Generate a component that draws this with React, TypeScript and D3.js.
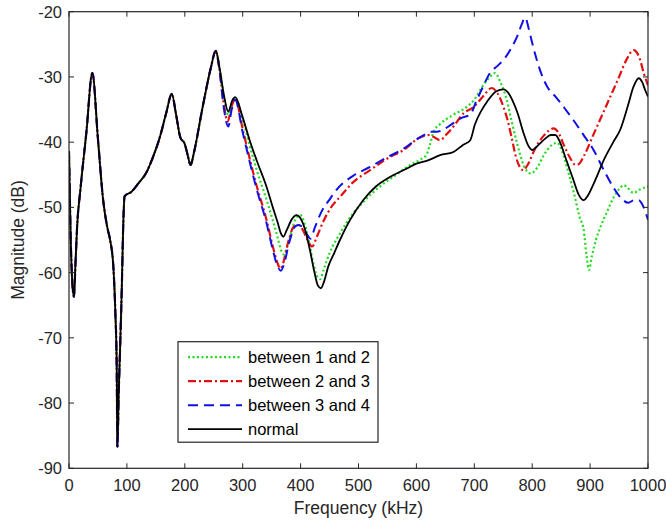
import React from "react";
import * as d3 from "d3";

type Pt = [number, number];

// Shared low-frequency response (all four cases coincide here)
const sharedHead: Pt[] = [
  [0, -41.4], [3, -55], [6, -62], [8.6, -63.7], [11, -59], [14, -53], [20, -47],
  [30, -38.5], [40.3, -29.4], [50, -39.5], [59, -48.9], [66, -53], [71, -55],
  [76.6, -59.1], [80, -66], [82.4, -74.4], [83.5, -86.8], [86, -78], [88.1, -72],
  [91, -63], [93.9, -52], [96, -48.3], [108, -47.6], [120, -46.3], [134, -44.6],
  [145, -42.3], [157, -39.2], [168, -35.5], [177.5, -32.6], [185, -35.8],
  [192, -39.2], [200, -40.3], [205, -42], [210, -43.5], [216, -41.5], [230, -35],
  [245, -28.6], [253.5, -26.0],
];

const normalTail: Pt[] = [
  [260, -28.6], [268, -33], [275, -35.3], [282, -33.6], [287, -33.1], [300, -36.2],
  [312, -39.7], [325, -43], [341, -46.8], [352, -50], [360, -52.2], [366, -54],
  [370, -54.5], [376, -53.5], [385, -51.8], [393, -51.2], [400, -51.7], [408, -53.5],
  [416, -56.5], [424, -60], [430, -62], [435, -62.4], [440, -61.5], [448, -59],
  [458, -57], [468, -55], [485, -52], [508, -48.9], [530, -46.8], [555, -45.3],
  [580, -44.2], [600, -43.3], [620, -42.8], [641, -42.0], [664, -41.5], [681, -40.4],
  [693, -39.7], [701, -37.3], [712, -35.2], [722, -33.8], [738, -32.2], [750, -31.9],
  [760, -32.6], [768, -34], [775, -35.6], [785, -38.6], [793, -40.5], [800, -41.2],
  [810, -40.5], [822, -39.5], [832, -38.9], [840, -38.9], [848, -40], [858, -42.5],
  [870, -45.5], [880, -48], [889, -48.9], [896, -48.2], [908, -46], [925, -42.5],
  [940, -40], [952, -38.1], [965, -34.5], [975, -31.5], [984, -30.2], [990, -30.8],
  [995, -32], [1000, -33],
];

const redTail: Pt[] = [
  [260, -29], [267, -34], [274, -36.8], [281, -34.5], [287, -33.3], [300, -38],
  [312, -42.5], [325, -47], [340, -51.5], [352, -56], [360, -58.5], [365, -59.4],
  [370, -58.5], [378, -55.5], [388, -53], [396, -52.7], [404, -53.5], [412, -55],
  [420, -56], [428, -54.5], [440, -52], [455, -49.7], [468, -48.4], [490, -46.2],
  [520, -44.3], [550, -42.5], [578, -41.2], [606, -39.3], [622, -38.9], [630, -39.2],
  [641, -39.7], [652, -38.8], [664, -37.6], [681, -35.6], [699, -34.6], [715, -33],
  [730, -31.7], [740, -32.5], [750, -34.5], [758, -36.8], [765, -39.5], [772, -42.3],
  [780, -44], [785, -44.3], [792, -43.5], [805, -41], [820, -39], [837, -37.9],
  [845, -38.5], [855, -40.5], [866, -42.5], [875, -43.5], [880, -43.4], [890, -42],
  [905, -39], [920, -36], [935, -33], [950, -30], [962, -27.5], [975, -25.9],
  [985, -27], [993, -29.5], [1000, -31.3],
];

const blueTail: Pt[] = [
  [260, -29], [267, -34.5], [275, -37.6], [281, -35], [287, -33.5], [300, -38.5],
  [312, -43], [325, -47.5], [340, -52], [352, -56.5], [360, -59], [366, -59.7],
  [372, -58.5], [380, -55.5], [390, -53], [396, -52.7], [403, -53], [410, -54],
  [417, -54.8], [425, -53], [437, -50.5], [450, -48.8], [462, -47.3], [490, -45.2],
  [520, -43.8], [550, -42.3], [578, -41], [600, -39.6], [615, -38.8], [625, -38.4],
  [635, -38.4], [650, -37.9], [665, -37], [680, -36.2], [693, -35.8], [703, -33.8],
  [715, -31.5], [727, -29.4], [740, -28.3], [753, -27.1], [765, -25.4], [775, -23.6],
  [782, -21.9], [788, -20.9], [794, -22.6], [800, -24.8], [808, -27.4], [817, -29.8],
  [826, -31.5], [842, -33.2], [856, -34.8], [871, -36.6], [888, -38.8], [906, -41.2],
  [922, -44], [940, -46.9], [955, -48.7], [966, -49.3], [976, -48.9], [984, -48.9],
  [991, -49.7], [1000, -51.9],
];

const greenTail: Pt[] = [
  [260, -28.6], [268, -33.3], [275, -35.8], [282, -33.8], [287, -33.2], [300, -36.5],
  [312, -40.5], [325, -44.5], [340, -48.5], [352, -52], [360, -54.5], [366, -56.5],
  [371, -57.2], [377, -56], [385, -53.5], [393, -51.5], [400, -51.2], [407, -52.5],
  [415, -55.5], [423, -59], [430, -60.8], [434, -61], [440, -59.5], [450, -57],
  [468, -54], [490, -51], [510, -49], [537, -46.8], [565, -45], [589, -43.5],
  [608, -42.6], [617, -42], [623, -40.5], [630, -38.3], [640, -37.3], [660, -36],
  [687, -34.6], [700, -33.5], [710, -32], [725, -30.2], [736, -29.4], [745, -30.8],
  [756, -33.5], [765, -37], [774, -40.2], [785, -43.5], [797, -44.8], [808, -44],
  [820, -42], [833, -40.5], [843, -40.1], [852, -41.5], [862, -44.5], [872, -47.8],
  [882, -51.5], [889, -53.5], [894, -57.5], [898, -59.6], [903, -57.5], [910, -55],
  [918, -53], [930, -50.5], [941, -48.4], [950, -47.2], [958, -46.6], [967, -47.2],
  [975, -47.8], [985, -47.3], [1000, -46.8],
];

const seriesNames = ["between 1 and 2", "between 2 and 3", "between 3 and 4", "normal"];
const seriesColors = ["#1fdc1f", "#e01010", "#1010e6", "#000000"];
const seriesDash = ["2 2.5", "8 3 2 3", "10 6", "none"];
const seriesWidth = [2.2, 2.2, 2.0, 1.8];
const seriesData: Pt[][] = [
  sharedHead.concat(greenTail),
  sharedHead.concat(redTail),
  sharedHead.concat(blueTail),
  sharedHead.concat(normalTail),
];

const xTicks = [0, 100, 200, 300, 400, 500, 600, 700, 800, 900, 1000];
const yTicks = [-90, -80, -70, -60, -50, -40, -30, -20];

const W = 666, H = 530;
const L = 69, R = 648, T = 11.7, B = 468.3;
const FONT = "'Liberation Sans', Arial, sans-serif";

export default function App() {
  const x = d3.scaleLinear().domain([0, 1000]).range([L, R]);
  const y = d3.scaleLinear().domain([-90, -20]).range([B, T]);
  const line = d3
    .line<Pt>()
    .x((d) => x(d[0]))
    .y((d) => y(d[1]))
    .curve(d3.curveMonotoneX);

  const tk = 5;
  const legX = 178, legY = 341.7, legW = 200, legH = 100.5;

  return (
    <svg
      width={W}
      height={H}
      style={{ position: "absolute", left: 0, top: 0, background: "#fff" }}
      fontFamily={FONT}
    >
      <rect x={0} y={0} width={W} height={H} fill="#fff" />
      <defs>
        <clipPath id="plotclip">
          <rect x={L} y={T - 1} width={R - L} height={B - T + 2} />
        </clipPath>
      </defs>
      <g clipPath="url(#plotclip)">
        {seriesData.map((d, i) => (
          <path
            key={i}
            d={line(d) || ""}
            fill="none"
            stroke={seriesColors[i]}
            strokeWidth={seriesWidth[i]}
            strokeDasharray={seriesDash[i] === "none" ? undefined : seriesDash[i]}
            strokeLinejoin="round"
          />
        ))}
      </g>
      {/* axes box */}
      <rect x={L} y={T} width={R - L} height={B - T} fill="none" stroke="#262626" strokeWidth={1.2} />
      {xTicks.map((t) => (
        <g key={"x" + t}>
          <line x1={x(t)} x2={x(t)} y1={B} y2={B - tk} stroke="#262626" />
          <line x1={x(t)} x2={x(t)} y1={T} y2={T + tk} stroke="#262626" />
          <text x={x(t)} y={B + 23} textAnchor="middle" fontSize={16.5} fill="#262626">
            {t}
          </text>
        </g>
      ))}
      {yTicks.map((t) => (
        <g key={"y" + t}>
          <line x1={L} x2={L + tk} y1={y(t)} y2={y(t)} stroke="#262626" />
          <line x1={R} x2={R - tk} y1={y(t)} y2={y(t)} stroke="#262626" />
          <text x={L - 7} y={y(t) + 6} textAnchor="end" fontSize={16.5} fill="#262626">
            {t}
          </text>
        </g>
      ))}
      <text x={(L + R) / 2} y={B + 46} textAnchor="middle" fontSize={17.5} fill="#262626">
        Frequency (kHz)
      </text>
      <text
        transform={`translate(${24},${(T + B) / 2}) rotate(-90)`}
        textAnchor="middle"
        fontSize={17.5}
        fill="#262626"
      >
        Magnitude (dB)
      </text>
      {/* legend */}
      <rect x={legX} y={legY} width={legW} height={legH} fill="#fff" stroke="#262626" strokeWidth={1.2} />
      {seriesNames.map((n, i) => {
        const cy = legY + 15.5 + i * 24;
        return (
          <g key={n}>
            <line
              x1={legX + 10}
              x2={legX + 64}
              y1={cy}
              y2={cy}
              stroke={seriesColors[i]}
              strokeWidth={seriesWidth[i]}
              strokeDasharray={seriesDash[i] === "none" ? undefined : seriesDash[i]}
            />
            <text x={legX + 70} y={cy + 6} fontSize={16.5} fill="#000">
              {n}
            </text>
          </g>
        );
      })}
    </svg>
  );
}
